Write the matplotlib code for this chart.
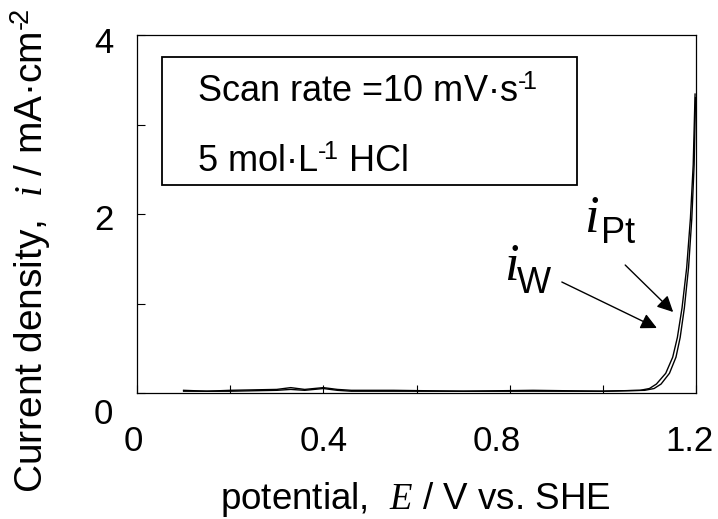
import matplotlib
matplotlib.use('Agg')
import matplotlib.pyplot as plt
import matplotlib.transforms as mtransforms

# valores (E em V vs. SHE, i em mA/cm2)
E_pt = [0.10, 0.15, 0.20, 0.30, 0.33, 0.36, 0.40, 0.43, 0.46, 0.55, 0.70, 0.85, 1.00,
        1.08, 1.10, 1.115, 1.135, 1.150, 1.160, 1.170, 1.180, 1.188, 1.194, 1.198]
i_pt = [0.03, 0.02, 0.03, 0.04, 0.06, 0.04, 0.06, 0.04, 0.03, 0.03, 0.02, 0.03, 0.02,
        0.03, 0.05, 0.10, 0.22, 0.40, 0.62, 0.95, 1.40, 1.95, 2.55, 3.34]
E_w = [0.10, 0.15, 0.20, 0.30, 0.33, 0.36, 0.40, 0.43, 0.46, 0.55, 0.70, 0.85, 1.00,
       1.09, 1.11, 1.125, 1.143, 1.157, 1.166, 1.175, 1.184, 1.191, 1.196, 1.199]
i_w = [0.02, 0.02, 0.02, 0.03, 0.04, 0.03, 0.05, 0.03, 0.02, 0.02, 0.02, 0.02, 0.02,
       0.03, 0.05, 0.10, 0.22, 0.40, 0.62, 0.95, 1.40, 1.95, 2.55, 3.30]

xticks = [0, 0.2, 0.4, 0.6, 0.8, 1.0, 1.2]
xtick_labels = ['0', '', '0.4', '', '0.8', '', '1.2']
yticks = [0, 1, 2, 3, 4]
ytick_labels = ['0', '', '2', '', '4']

plt.rcParams['font.family'] = ['Liberation Sans', 'DejaVu Sans']
plt.rcParams['mathtext.fontset'] = 'custom'
plt.rcParams['mathtext.it'] = 'Liberation Serif:italic'
plt.rcParams['mathtext.rm'] = 'Liberation Sans'

fig = plt.figure(figsize=(7.18, 5.19), dpi=100)
ax = fig.add_axes([137/718, 1 - 393/519, 559/718, 358/519])

ax.plot(E_pt, i_pt, color='black', linewidth=1.0)
ax.plot(E_w, i_w, color='black', linewidth=1.0)

ax.set_xlim(0, 1.2)
ax.set_ylim(0, 4)
ax.set_xticks(xticks)
ax.set_xticklabels(xtick_labels)
ax.set_yticks(yticks)
ax.set_yticklabels(ytick_labels)
ax.tick_params(direction='in', length=6, width=0.8, labelsize=25)
ax.tick_params(axis='x', pad=23)
ax.tick_params(axis='y', pad=17)
for s in ax.spines.values():
    s.set_linewidth(0.9)

# pequenos deslocamentos dos rotulos como no original
xoff = [-4, 0, 0, 0, -13, 0, -6]
for lab, dx in zip(ax.get_xticklabels(), xoff):
    lab.set_transform(lab.get_transform() + mtransforms.Affine2D().translate(dx, 0))
yoff = [-18, 0, -3, 0, -5]
for lab, dy in zip(ax.get_yticklabels(), yoff):
    lab.set_transform(lab.get_transform() + mtransforms.Affine2D().translate(0, dy))

ax.set_xlabel('potential,  $E$ / V vs. SHE', fontsize=26.5)
ax.xaxis.set_label_coords(0.498, -0.243)
ax.set_ylabel('Current density,  $i$ / mA·cm$^{\u2010\\!2}$', fontsize=28)
ax.yaxis.set_label_coords(-0.150, 0.397)

# caixa de condicoes
ax.text(0.108, 0.813, 'Scan rate =10 mV·s$^{\u2010\\!1}$', transform=ax.transAxes,
        fontsize=26, va='baseline')
ax.text(0.108, 0.617, '5 mol·L$^{\u2010\\!1}$ HCl', transform=ax.transAxes,
        fontsize=26, va='baseline')
rect = plt.Rectangle((25/559, 1 - 150/358), 415/559, 128/358, transform=ax.transAxes,
                     fill=False, edgecolor='black', linewidth=1.3)
ax.add_patch(rect)

# rotulos das curvas
ax.text(0.960, 1.80, '$i$', fontsize=38, ha='left', va='baseline')
ax.text(0.997, 1.68, 'Pt', fontsize=26, ha='left', va='baseline')
ax.text(0.787, 1.26, '$i$', fontsize=38, ha='left', va='baseline')
ax.text(0.815, 1.12, 'W', fontsize=26, ha='left', va='baseline')

arr = dict(arrowstyle='-|>', color='black', linewidth=1.0, mutation_scale=24,
           shrinkA=0, shrinkB=0)
ax.annotate('', xy=(1.116, 0.726), xytext=(0.912, 1.24), arrowprops=arr)
ax.annotate('', xy=(1.151, 0.905), xytext=(1.048, 1.43), arrowprops=arr)

fig.savefig('out.png', dpi=100)
